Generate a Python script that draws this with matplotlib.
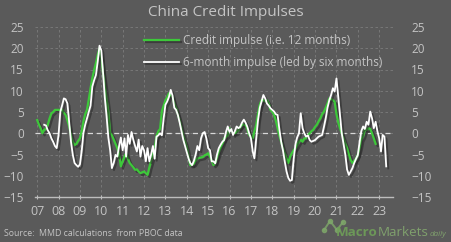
import numpy as np
import pandas as pd
import matplotlib
matplotlib.use("Agg")
import matplotlib.pyplot as plt
import matplotlib.dates as mdates
import matplotlib.patheffects as pe

# ---------------- data (monthly) ----------------
green_start = "2007-01-01"
green_values = [
    3.1, 2.0, 1.2, 0.0, 0.8, 1.0, 2.0, 3.5, 4.7, 5.0, 5.5, 5.5,          # 2007
    5.5, 5.5, 5.5, 4.8, 4.3, 3.0, 1.6, -0.5, -2.0, -2.8, -2.5, -1.8,     # 2008
    -1.2, 0.5, 2.8, 4.5, 5.5, 8.0, 10.6, 13.0, 14.9, 16.5, 18.4, 20.0,   # 2009
    17.6, 14.0, 11.4, 8.0, 5.0, 0.0, -0.5, -1.5, -2.5, -3.5, -5.0, -7.8, # 2010
    -6.6, -5.5, -4.7, -6.0, -7.0, -7.5, -8.0, -8.6, -8.5, -9.0, -9.4, -9.2,  # 2011
    -9.0, -9.4, -9.8, -8.0, -6.6, -5.0, -3.5, -0.7, 0.5, 1.0, 5.2, 6.5,  # 2012
    7.8, 8.5, 9.4, 9.0, 8.5, 7.0, 5.9, 4.5, 3.0, 1.2, -0.5, -2.0,        # 2013
    -3.5, -5.4, -7.5, -7.5, -7.2, -6.5, -5.9, -5.8, -5.7, -5.6, -5.2, -5.0,  # 2014
    -4.7, -5.5, -6.3, -7.5, -7.0, -5.7, -4.5, -3.5, -2.5, -1.2, -0.8, -0.5,  # 2015
    1.2, 0.5, 0.0, 0.0, 0.2, 0.8, 1.5, 2.0, 2.0, 2.0, 1.0, -0.4,         # 2016
    -0.8, -1.2, 0.5, 2.0, 4.5, 6.7, 7.8, 7.8, 7.5, 7.8, 7.0, 5.5,        # 2017
    5.0, 4.3, 3.0, 1.2, -0.5, -2.0, -3.5, -4.7, -6.0, -7.0, -5.5, -4.7,  # 2018
    -4.0, -3.5, -2.8, -2.0, -1.5, -2.0, -1.2, -1.2, -0.5, 0.0, 0.5, 0.8, # 2019
    1.5, 2.0, 2.8, 3.5, 4.5, 5.1, 6.0, 7.0, 8.2, 8.0, 7.8, 7.4,          # 2020
    4.5, 2.5, 1.2, 0.0, -1.2, -2.5, -3.5, -5.0, -6.3, -7.0, -6.5, -6.0,  # 2021
    -5.0, -3.5, -1.5, -0.7, 0.8, 0.8, 1.2, 1.0, 0.0, -1.2, -2.5,         # 2022
]

white_start = "2007-05-01"
white_values = [
    2.0, 1.8, 0.7, 0.0, -1.2, -2.0, -3.0, -3.5,                          # 2007 (May-Dec)
    -0.4, 5.1, 6.5, 8.2, 8.0, 7.0, 2.7, -2.0, -5.1, -7.0, -7.5, -7.9,    # 2008
    -7.3, -4.0, 0.0, 2.0, 3.5, 5.0, 6.5, 11.0, 12.5, 13.7, 16.9, 20.6,   # 2009
    19.5, 14.0, 8.5, 4.0, -1.0, -4.0, -8.2, -7.0, -5.1, -5.5, -3.0, -1.0,  # 2010
    -4.0, -1.2, -5.5, -0.4, -2.5, 0.3, -1.5, -3.0, -4.3, -1.5, -5.5, -3.0, # 2011
    -4.0, -6.6, -3.5, -6.6, -5.0, -3.0, -6.0, -0.8, -0.5, 0.0, -0.5, 3.5,  # 2012
    6.7, 7.5, 8.5, 10.2, 8.9, 6.0, 5.5, 4.3, 2.5, 0.5, -1.5, -3.0,       # 2013
    -4.5, -6.0, -7.0, -7.5, -6.5, -5.0, -3.0, -4.0, -1.2, 0.0, 0.3, -1.2,  # 2014
    -3.5, -4.0, -6.6, -6.6, -7.1, -5.0, -3.5, -2.7, -2.0, -1.6, 0.3, 1.6,  # 2015
    0.3, 1.0, -0.4, 0.5, 1.6, 1.2, 1.5, 2.5, 3.2, 2.5, 1.5, 0.0,         # 2016
    -1.2, -4.3, -5.9, -1.2, 3.0, 6.0, 7.5, 9.0, 8.2, 7.0, 6.5, 5.9,      # 2017
    5.5, 5.1, 4.5, 4.3, 1.0, -2.0, -4.0, -6.6, -9.0, -10.5, -11.2, -11.0,  # 2018
    -6.0, -2.5, -1.0, 0.0, 4.7, 1.2, 0.0, -0.8, -0.5, -1.6, -2.0, -1.8,  # 2019
    -1.6, -1.2, -0.8, -0.6, -0.4, 1.5, 3.5, 6.0, 7.8, 9.0, 10.6, 9.8,    # 2020
    12.9, 8.5, 4.3, 0.0, -2.5, -5.0, -8.5, -9.8, -9.0, -8.2, -7.0, -6.0, # 2021
    -5.1, -2.0, 0.5, 1.6, 1.0, 2.7, 2.0, 5.1, 3.5, 1.2, 2.7, 0.5,        # 2022
    -1.2, -4.3, -0.4, -0.8, -7.8,                                        # 2023
]

series_labels = ["Credit impulse (i.e. 12 months)", "6-month impulse (led by six months)"]
title_text = "China Credit Impulses"
source_text = "Source:  MMD calculations  from PBOC data"
y_ticks = [-15, -10, -5, 0, 5, 10, 15, 20, 25]
year_ticks = list(range(2007, 2024))

# ---------------- style ----------------
BG = "#5a5a5a"
TXT = "#c4c4c4"
GRID = "#7c7c7c"
GREEN = "#3dc83a"

green_dates = pd.date_range(green_start, periods=len(green_values), freq="MS")
white_dates = pd.date_range(white_start, periods=len(white_values), freq="MS")

plt.rcParams["font.family"] = ["Open Sans", "DejaVu Sans"]
fig = plt.figure(figsize=(4.52, 2.42), dpi=100, facecolor=BG)
ax = fig.add_axes([35 / 452, 1 - 197 / 242, 358 / 452, 170 / 242])
ax.set_facecolor(BG)

shadow = [pe.SimpleLineShadow(offset=(1.5, -1.5), shadow_color="#2a2a2a", alpha=0.6), pe.Normal()]
ax.plot(green_dates, green_values, color=GREEN, lw=1.6, label=series_labels[0],
        path_effects=shadow, zorder=3)
ax.plot(white_dates, white_values, color="white", lw=1.3, label=series_labels[1],
        path_effects=shadow, zorder=4)

ax.axhline(0, color="#d8d8d8", lw=0.9, ls=(0, (4, 3)), zorder=2)

ax.set_ylim(-15, 25)
ax.set_xlim(pd.Timestamp("2006-11-25"), pd.Timestamp("2023-08-25"))
ax.set_yticks(y_ticks)
ax.set_xticks([pd.Timestamp(f"{y}-01-01") for y in year_ticks])
ax.xaxis.set_major_formatter(mdates.DateFormatter("%y"))

ax.grid(True, color=GRID, lw=0.6, ls=(0, (3, 3)))
ax.set_axisbelow(True)
for s in ["top", "left", "right"]:
    ax.spines[s].set_visible(False)
ax.spines["bottom"].set_color("#bdbdbd")
ax.spines["bottom"].set_linewidth(1.0)
ax.tick_params(axis="x", colors=TXT, labelsize=9, length=3, direction="inout",
               color="#bdbdbd", pad=4)
ax.tick_params(axis="y", colors=TXT, labelsize=8.5, length=0, pad=8)

ax2 = ax.twinx()
ax2.set_ylim(ax.get_ylim())
ax2.set_yticks(y_ticks)
ax2.tick_params(axis="y", colors=TXT, labelsize=8.5, length=0, pad=13)
for s in ax2.spines.values():
    s.set_visible(False)

leg = ax.legend(loc="upper left", bbox_to_anchor=(138 / 452, 1 - 28 / 242),
                bbox_transform=fig.transFigure, frameon=False, fontsize=8.5,
                handlelength=3.0, handletextpad=0.35, labelspacing=0.75, borderpad=0)
for t in leg.get_texts():
    t.set_color(TXT)

fig.text(0.5, 1 - 13 / 242, title_text, ha="center", va="center", color=TXT, fontsize=11)
fig.text(4 / 452, 1 - 233 / 242, source_text, ha="left", va="center", color=TXT, fontsize=6.3)

# watermark logo
fig.lines.append(plt.Line2D([324 / 452, 330 / 452, 337 / 452, 343 / 452],
                            [1 - 230 / 242, 1 - 221 / 242, 1 - 230 / 242, 1 - 222 / 242],
                            transform=fig.transFigure, color="#7fa86a", lw=1.4,
                            marker="o", ms=3, alpha=0.8))
fig.canvas.draw()
r = fig.canvas.get_renderer()
t1 = fig.text(336 / 452, 1 - 233 / 242, "Macro", ha="left", va="center", color="#6f9f58",
              fontsize=9.6, fontweight="bold", alpha=0.9)
bb = t1.get_window_extent(renderer=r)
t2 = fig.text(bb.x1 / fig.bbox.width, 1 - 233 / 242, "Markets", ha="left", va="center",
              color="#86ad70", fontsize=9.6, alpha=0.85)
bb2 = t2.get_window_extent(renderer=r)
fig.text(bb2.x1 / fig.bbox.width + 0.002, 1 - 235 / 242, "daily", ha="left", va="center",
         color="#86ad70", fontsize=5.8, style="italic", alpha=0.85)

fig.savefig("out.png", dpi=100, facecolor=BG)
